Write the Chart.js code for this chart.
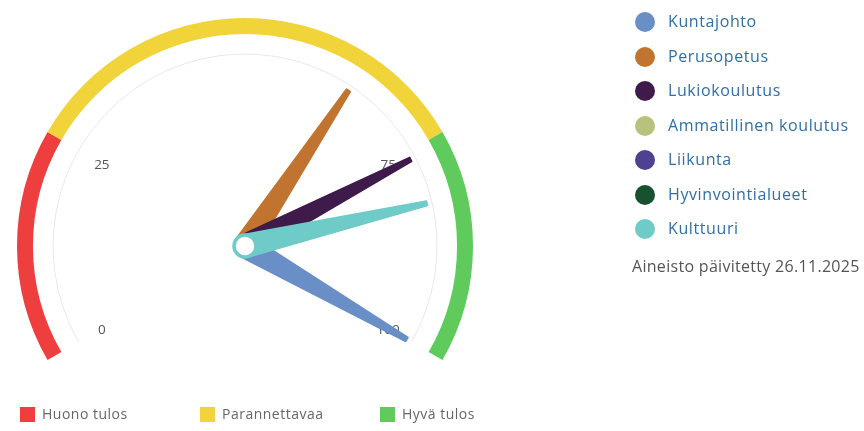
<!DOCTYPE html>
<html>
<head>
<meta charset="utf-8">
<script src="https://cdn.jsdelivr.net/npm/chart.js@4"></script>
<style>
    body { margin: 0; background: #fff; font-family: "Open Sans", Lato, sans-serif; }
    #wrap { position: relative; width: 864px; height: 431px; overflow: hidden; }
    #gauge { position: absolute; left: 0; top: 0; }
    .series-legend { position: absolute; left: 635px; top: 10px; }
    .series-legend .item { height: 34.5px; display: flex; align-items: flex-start; color: #2f6fa6; font-size: 16px; letter-spacing: 0.6px; line-height: 22px; }
    .series-legend .dot { width: 20px; height: 20px; border-radius: 50%; margin-right: 13px; margin-top: 2px; }
    .updated { position: absolute; left: 632px; top: 255px; color: #555; font-size: 16px; letter-spacing: 0.3px; line-height: 22px; }
    .band-legend { position: absolute; top: 405px; left: 20px; display: flex; }
    .band-legend .item { display: flex; align-items: center; color: #666; font-size: 14px; letter-spacing: 0.5px; width: 180px; line-height: 18px; }
    .band-legend .sq { width: 15px; height: 15px; margin-right: 7px; }
</style>
</head>
<body>
<div id="wrap">
    <canvas id="gauge" width="864" height="431"></canvas>
    <div class="series-legend" id="seriesLegend"></div>
    <div class="updated">Aineisto päivitetty 26.11.2025</div>
    <div class="band-legend" id="bandLegend"></div>
</div>
<script>
// gauge bands
const bandLabels = ['Huono tulos', 'Parannettavaa', 'Hyvä tulos'];
const bandLimits = [0, 25, 75, 100];
const bandColors = ['#ee3e3e', '#f1d33a', '#5ecb5c'];

// needles (one per series)
const seriesNames = ['Kuntajohto', 'Perusopetus', 'Lukiokoulutus', 'Ammatillinen koulutus', 'Liikunta', 'Hyvinvointialueet', 'Kulttuuri'];
const seriesColors = ['#6a8fc6', '#c0742f', '#3e1b4b', '#b8c27c', '#4e4192', '#19502f', '#6ecbc8'];
const seriesValues = [100, 64, 76, null, null, null, 82];

// axis labels
const tickValues = [0, 25, 75, 100];

// draws the thin arc, tick labels, needles and pivot on top of the bands
const gaugePlugin = {
    id: 'gaugeNeedles',
    afterDatasetsDraw(chart) {
        const arcs = chart.getDatasetMeta(0).data;
        const cx = arcs[0].x, cy = arcs[0].y;
        const outer = arcs[0].outerRadius;
        const a0 = arcs[0].startAngle, a1 = arcs[arcs.length - 1].endAngle;
        const min = bandLimits[0], max = bandLimits[bandLimits.length - 1];
        const toAngle = v => a0 + (v - min) / (max - min) * (a1 - a0);
        const ctx = chart.ctx;
        ctx.save();

        // inner thin arc
        ctx.strokeStyle = '#e8e8ec';
        ctx.lineWidth = 1;
        ctx.beginPath();
        ctx.arc(cx, cy, outer * 0.842, a0, a1);
        ctx.stroke();

        // tick labels
        ctx.fillStyle = '#555';
        ctx.font = '13.5px "Open Sans", Lato, sans-serif';
        ctx.textAlign = 'center';
        ctx.textBaseline = 'middle';
        tickValues.forEach(t => {
            const a = toAngle(t);
            ctx.fillText(String(t), cx + Math.cos(a) * outer * 0.725, cy + 2 + Math.sin(a) * outer * 0.725);
        });

        // needles
        const len = outer * 0.82;
        seriesValues.forEach((v, i) => {
            if (v === null) return;
            const a = toAngle(v);
            ctx.save();
            ctx.translate(cx, cy);
            ctx.rotate(a);
            ctx.fillStyle = seriesColors[i];
            ctx.strokeStyle = seriesColors[i];
            ctx.lineWidth = 1.5;
            ctx.lineJoin = 'round';
            ctx.beginPath();
            ctx.moveTo(0, -11.5);
            ctx.lineTo(len, -2.3);
            ctx.lineTo(len, 2.3);
            ctx.lineTo(0, 11.5);
            ctx.closePath();
            ctx.fill();
            ctx.stroke();
            ctx.restore();
        });

        // pivot
        ctx.beginPath();
        ctx.arc(cx, cy, 11, 0, Math.PI * 2);
        ctx.fillStyle = '#fff';
        ctx.fill();
        ctx.lineWidth = 3.5;
        ctx.strokeStyle = seriesColors[seriesColors.length - 1];
        ctx.stroke();
        ctx.restore();
    }
};

document.addEventListener('DOMContentLoaded', () => {
    const bandSizes = bandLimits.slice(1).map((b, i) => b - bandLimits[i]);

    new Chart(document.getElementById('gauge').getContext('2d'), {
        type: 'doughnut',
        data: {
            labels: bandLabels,
            datasets: [{
                data: bandSizes,
                backgroundColor: bandColors,
                borderWidth: 0
            }]
        },
        options: {
            responsive: false,
            animation: false,
            rotation: -120,
            circumference: 240,
            cutout: '93%',
            layout: { padding: { left: 17, top: 18, right: 391, bottom: 71 } },
            plugins: {
                legend: { display: false },
                tooltip: { enabled: false }
            }
        },
        plugins: [gaugePlugin]
    });

    // right legend for the needles
    const seriesLegend = document.getElementById('seriesLegend');
    seriesNames.forEach((name, i) => {
        const item = document.createElement('div');
        item.className = 'item';
        item.innerHTML = '<span class="dot" style="background:' + seriesColors[i] + '"></span><span>' + name + '</span>';
        seriesLegend.appendChild(item);
    });

    // bottom legend for the bands
    const bandLegend = document.getElementById('bandLegend');
    bandLabels.forEach((name, i) => {
        const item = document.createElement('div');
        item.className = 'item';
        item.innerHTML = '<span class="sq" style="background:' + bandColors[i] + '"></span><span>' + name + '</span>';
        bandLegend.appendChild(item);
    });
});
</script>
</body>
</html>
